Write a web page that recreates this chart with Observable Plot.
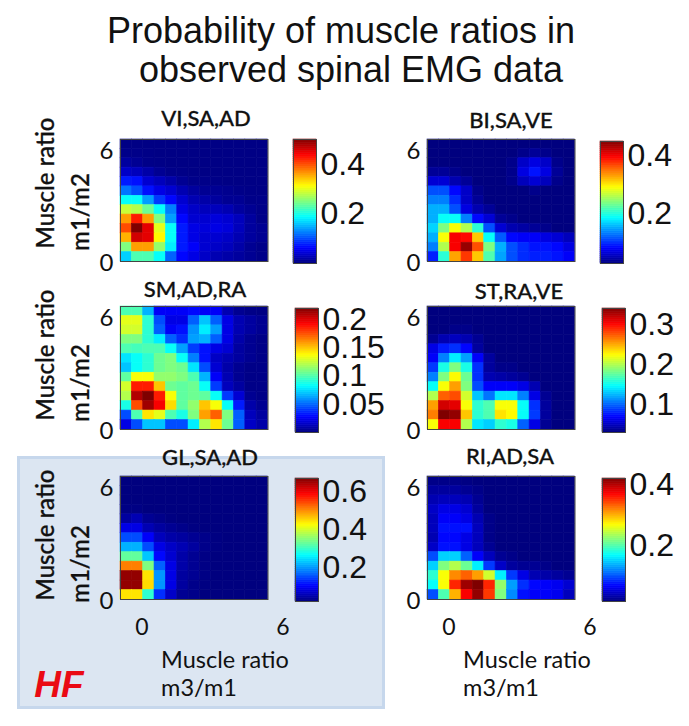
<!DOCTYPE html>
<html>
<head>
<meta charset="utf-8">
<script src="https://cdn.jsdelivr.net/npm/d3@7"></script>
<script src="https://cdn.jsdelivr.net/npm/@observablehq/plot@0.6"></script>
<style>
html,body{margin:0;padding:0;background:#fff}
#page{position:relative;width:689px;height:726px;overflow:hidden;font-family:Lato,sans-serif;color:#111}
#box{position:absolute;left:17px;top:456px;width:362px;height:247px;background:#dce6f2;border:3px solid #c6d7ec}
.t{position:absolute;transform:translate(-50%,-50%);white-space:pre;line-height:1}
.r{transform:translate(-50%,-50%) rotate(-90deg)}
svg{position:absolute;background:transparent !important}
</style>
</head>
<body>
<div id="page"><div id="box"></div></div>
<script>
const ratios = [0,0.5,1,1.5,2,2.5,3,3.5,4,4.5,5,5.5,6];
const jetStops = [0,0.125,0.375,0.625,0.875,1];
const jetColors = ["#00007f","#0000ff","#00ffff","#ffff00","#ff0000","#7f0000"];

// rows listed from m1/m2 = 6 (top) to m1/m2 = 0 (bottom)
const viSaAd = [
[.003,.003,.003,.003,.003,.003,.003,.003,.003,.003,.003,.003,.003],
[.005,.005,.004,.003,.003,.003,.003,.003,.003,.003,.003,.003,.003],
[.015,.01,.005,.004,.003,.003,.003,.003,.003,.003,.003,.003,.003],
[.035,.03,.02,.01,.005,.004,.003,.003,.003,.003,.003,.003,.003],
[.075,.07,.04,.03,.02,.01,.005,.005,.004,.003,.003,.003,.003],
[.12,.10,.07,.05,.04,.025,.015,.01,.01,.008,.005,.004,.003],
[.19,.19,.14,.09,.065,.04,.025,.02,.015,.01,.01,.005,.005],
[.285,.275,.24,.19,.125,.05,.035,.03,.03,.025,.015,.01,.005],
[.36,.425,.36,.25,.14,.065,.04,.04,.045,.04,.03,.015,.005],
[.40,.50,.45,.30,.19,.075,.05,.045,.05,.045,.03,.015,.01],
[.35,.46,.45,.315,.19,.075,.05,.04,.04,.035,.025,.015,.01],
[.25,.36,.36,.26,.18,.075,.06,.04,.035,.03,.02,.01,.005],
[.165,.225,.225,.19,.11,.065,.05,.035,.025,.02,.015,.01,.005]];

const biSaVe = [
[.03,.03,.03,.03,.03,.03,.03,.03,.03,.03,.03,.03,.03],
[.03,.03,.03,.03,.03,.03,.03,.03,.035,.04,.035,.03,.03],
[.03,.03,.03,.03,.03,.03,.03,.035,.06,.07,.06,.035,.03],
[.04,.04,.035,.03,.03,.03,.03,.035,.07,.09,.07,.04,.03],
[.065,.065,.05,.04,.03,.03,.03,.035,.055,.065,.055,.035,.03],
[.115,.115,.085,.06,.035,.03,.03,.03,.03,.035,.03,.03,.03],
[.135,.135,.10,.06,.04,.03,.03,.03,.03,.03,.03,.03,.03],
[.155,.155,.115,.07,.05,.04,.03,.03,.03,.03,.03,.03,.03],
[.155,.19,.19,.135,.085,.065,.04,.035,.03,.03,.03,.03,.03],
[.17,.24,.29,.26,.205,.115,.065,.05,.045,.04,.035,.03,.03],
[.155,.29,.40,.395,.315,.19,.12,.085,.08,.08,.07,.065,.055],
[.135,.26,.40,.44,.365,.24,.155,.115,.10,.09,.09,.085,.07],
[.095,.205,.33,.375,.315,.22,.15,.115,.10,.095,.095,.09,.08]];

const smAdRa = [
[.099,.099,.066,.026,.026,.026,.029,.026,.026,.011,.004,.002,.001],
[.132,.132,.092,.044,.022,.022,.048,.07,.048,.022,.011,.007,.004],
[.128,.128,.092,.048,.026,.031,.059,.079,.062,.022,.011,.007,.004],
[.11,.11,.092,.079,.048,.037,.062,.066,.048,.022,.009,.004,.002],
[.099,.097,.099,.099,.084,.062,.04,.031,.022,.018,.007,.004,.002],
[.077,.084,.092,.106,.11,.084,.055,.031,.015,.011,.007,.004,.002],
[.07,.084,.092,.106,.11,.106,.077,.044,.018,.009,.004,.002,.002],
[.103,.136,.136,.114,.114,.11,.099,.066,.026,.011,.004,.002,.002],
[.128,.187,.187,.15,.106,.103,.106,.084,.04,.013,.007,.002,.002],
[.121,.209,.22,.187,.136,.103,.106,.103,.084,.04,.018,.004,.002],
[.088,.176,.213,.194,.145,.103,.114,.15,.136,.084,.033,.009,.004],
[.044,.099,.143,.132,.099,.088,.11,.158,.172,.11,.048,.013,.007],
[.022,.044,.07,.07,.044,.044,.079,.121,.143,.106,.048,.015,.009]];

const stRaVe = [
[.03,.03,.03,.03,.03,.03,.03,.03,.03,.03,.03,.03,.03],
[.03,.03,.03,.03,.03,.03,.03,.03,.03,.03,.03,.03,.03],
[.03,.03,.033,.033,.03,.03,.03,.03,.03,.03,.03,.03,.03],
[.036,.045,.049,.045,.036,.03,.03,.03,.03,.03,.03,.03,.03],
[.061,.077,.083,.07,.039,.03,.03,.03,.03,.03,.03,.03,.03],
[.067,.108,.142,.117,.067,.039,.03,.03,.03,.03,.03,.03,.03],
[.086,.154,.185,.154,.083,.039,.033,.033,.03,.03,.03,.03,.03],
[.108,.185,.225,.179,.083,.045,.042,.039,.036,.03,.03,.03,.03],
[.148,.222,.253,.185,.092,.067,.067,.067,.061,.045,.03,.03,.03],
[.2,.272,.278,.21,.129,.104,.139,.139,.108,.061,.036,.03,.03],
[.253,.315,.309,.222,.16,.17,.222,.222,.148,.083,.039,.03,.03],
[.263,.34,.334,.241,.16,.17,.232,.225,.148,.086,.039,.03,.03],
[.222,.303,.303,.2,.139,.132,.16,.154,.098,.061,.036,.03,.03]];

const glSaAd = [
[.02,.02,.02,.02,.02,.02,.02,.02,.02,.02,.02,.02,.02],
[.02,.02,.02,.02,.02,.02,.02,.02,.02,.02,.02,.02,.02],
[.02,.02,.02,.02,.02,.02,.02,.02,.02,.02,.02,.02,.02],
[.023,.023,.02,.02,.02,.02,.02,.02,.02,.02,.02,.02,.02],
[.04,.053,.033,.027,.022,.02,.02,.02,.02,.02,.02,.02,.02],
[.085,.085,.053,.04,.033,.027,.022,.02,.02,.02,.02,.02,.02],
[.15,.15,.098,.059,.046,.04,.033,.027,.022,.02,.02,.02,.02],
[.215,.215,.15,.085,.066,.053,.04,.027,.022,.02,.02,.02,.02],
[.326,.326,.228,.105,.072,.046,.033,.024,.02,.02,.02,.02,.02],
[.508,.508,.345,.163,.085,.046,.033,.024,.02,.02,.02,.02,.02],
[.657,.657,.443,.196,.085,.04,.033,.024,.02,.02,.02,.02,.02],
[.657,.657,.449,.196,.085,.04,.027,.022,.02,.02,.02,.02,.02],
[.443,.443,.293,.13,.066,.033,.027,.02,.02,.02,.02,.02,.02]];

const riAdSa = [
[.024,.024,.024,.022,.02,.02,.02,.02,.02,.02,.02,.02,.02],
[.032,.032,.032,.028,.024,.02,.02,.02,.02,.02,.02,.02,.02],
[.04,.044,.044,.04,.028,.02,.02,.02,.02,.02,.02,.02,.02],
[.048,.06,.06,.052,.032,.02,.02,.02,.02,.02,.02,.02,.02],
[.044,.068,.068,.06,.04,.024,.02,.02,.02,.02,.02,.02,.02],
[.044,.076,.076,.076,.044,.024,.02,.02,.02,.02,.02,.02,.02],
[.04,.072,.072,.06,.044,.024,.02,.02,.02,.02,.02,.02,.02],
[.048,.076,.076,.06,.044,.028,.02,.02,.02,.02,.02,.02,.02],
[.1,.152,.152,.108,.068,.044,.028,.024,.02,.02,.02,.02,.02],
[.152,.22,.24,.212,.164,.092,.048,.032,.028,.028,.024,.02,.02],
[.188,.268,.316,.332,.308,.252,.164,.092,.06,.04,.036,.032,.028],
[.172,.268,.356,.408,.42,.356,.228,.132,.088,.072,.068,.064,.052],
[.1,.2,.3,.372,.412,.348,.22,.124,.076,.068,.068,.064,.044]];

const panels = [
  {title:"VI,SA,AD", rows:viSaAd, min:0,    max:.5,  ticks:[.2,.4],        left:120, top:139, h:122, titleX:206, titleY:118, barLeft:293, barTop:139, barH:124},
  {title:"BI,SA,VE", rows:biSaVe, min:.03,  max:.45, ticks:[.2,.4],        left:427, top:139, h:122, titleX:511, titleY:120, barLeft:600, barTop:141, barH:122},
  {title:"SM,AD,RA", rows:smAdRa, min:0,    max:.22, ticks:[.05,.1,.15,.2],left:120, top:306, h:123, titleX:195, titleY:289, barLeft:295, barTop:308, barH:124},
  {title:"ST,RA,VE", rows:stRaVe, min:.03,  max:.34, ticks:[.1,.2,.3],     left:427, top:306, h:123, titleX:519, titleY:291, barLeft:602, barTop:308, barH:124},
  {title:"GL,SA,AD", rows:glSaAd, min:.02,  max:.67, ticks:[.2,.4,.6],     left:120, top:476, h:123, titleX:210, titleY:457, barLeft:295, barTop:478, barH:123},
  {title:"RI,AD,SA", rows:riAdSa, min:.02,  max:.42, ticks:[.2,.4],        left:427, top:476, h:123, titleX:510, titleY:456, barLeft:602, barTop:478, barH:123}
];

const page = document.getElementById("page");
function label(text,x,y,css,cls){
  const d=document.createElement("div");
  d.className="t "+(cls||"");
  d.textContent=text;
  d.style.left=x+"px"; d.style.top=y+"px"; d.style.cssText+=css||"";
  page.appendChild(d);
}

const cellWidth = 147.5;
const mL = 30, mB = 20, mT = 20, mR = 4;
for (const p of panels) {
  const table = p.rows.flatMap((row,i)=>row.map((v,j)=>({x:ratios[j], y:ratios[12-i], v})));
  const colorDomain = jetStops.map(s=>p.min+s*(p.max-p.min));
  const heat = Plot.plot({
    width:cellWidth+mL+mR, height:p.h+mT+mB,
    marginLeft:mL, marginRight:mR, marginTop:mT, marginBottom:mB,
    style:{background:"transparent"},
    x:{type:"band", domain:ratios, padding:0, round:false, axis:null},
    y:{type:"band", domain:[...ratios].reverse(), padding:0, round:false, axis:null},
    color:{type:"linear", domain:colorDomain, range:jetColors, clamp:true},
    marks:[
      Plot.cell(table,{x:"x",y:"y",fill:"v",stroke:"v",strokeWidth:0.6}),
      Plot.frame({stroke:"#444",strokeWidth:1}),
      Plot.axisY({ticks:[0,6], tickSize:0, tickPadding:7, dy:7, fontSize:24, fontFamily:"Lato", fill:"#111", tickFormat:d=>String(d), label:null})
    ]
  });
  heat.style.left=(p.left-mL)+"px"; heat.style.top=(p.top-mT)+"px";
  page.appendChild(heat);

  // colour bar: the same colour scale along a linear axis
  const levels = d3.range(64).map(i=>p.min+(i/64)*(p.max-p.min));
  const step = (p.max-p.min)/64;
  const bar = Plot.plot({
    width:96, height:p.barH+mT+mB,
    marginLeft:1, marginRight:72, marginTop:mT, marginBottom:mB,
    style:{background:"transparent",overflow:"visible"},
    x:{axis:null, domain:[0,1]},
    y:{domain:[p.min,p.max], axis:null},
    color:{type:"linear", domain:colorDomain, range:jetColors, clamp:true},
    marks:[
      Plot.rect(levels,{x1:0,x2:1,y1:d=>d,y2:d=>d+step,fill:d=>d+step/2,stroke:d=>d+step/2,strokeWidth:0.6}),
      Plot.frame({stroke:"#444",strokeWidth:1}),
      Plot.axisY({anchor:"right", ticks:p.ticks, tickSize:0, tickPadding:4, fontSize:32, fontFamily:"Liberation Sans", fill:"#111", tickFormat:d=>String(d), label:null})
    ]
  });
  bar.style.left=(p.barLeft-1)+"px"; bar.style.top=(p.barTop-mT)+"px";
  page.appendChild(bar);

  label(p.title,p.titleX,p.titleY,"font-size:22px;font-weight:500;-webkit-text-stroke:0.3px #111;");
}

label("Probability of muscle ratios in",341,31,"font-family:'Liberation Sans';font-size:36px;color:#111;");
label(" observed spinal EMG data",346,70,"font-family:'Liberation Sans';font-size:36px;color:#111;");

for (const [mr,m12] of [[183,212],[355,383],[535,564]]) {
  label("Muscle ratio",45,mr,"font-size:24px;font-weight:500;-webkit-text-stroke:0.3px #111;","r");
  label("m1/m2",80,m12,"font-size:24px;font-weight:500;-webkit-text-stroke:0.3px #111;","r");
}
for (const [zero,six,lx,mx] of [[142,283,225,199],[449,590,527,501]]) {
  label("0",zero,626,"font-size:23px;");
  label("6",six,626,"font-size:23px;");
  label("Muscle ratio",lx,660,"font-size:23.5px;");
  label("m3/m1",mx,688,"font-size:23.5px;");
}
label("HF",59,684,"font-family:'Liberation Sans';font-size:37px;font-weight:700;font-style:italic;color:#ea0a14;");
</script>
</body>
</html>
